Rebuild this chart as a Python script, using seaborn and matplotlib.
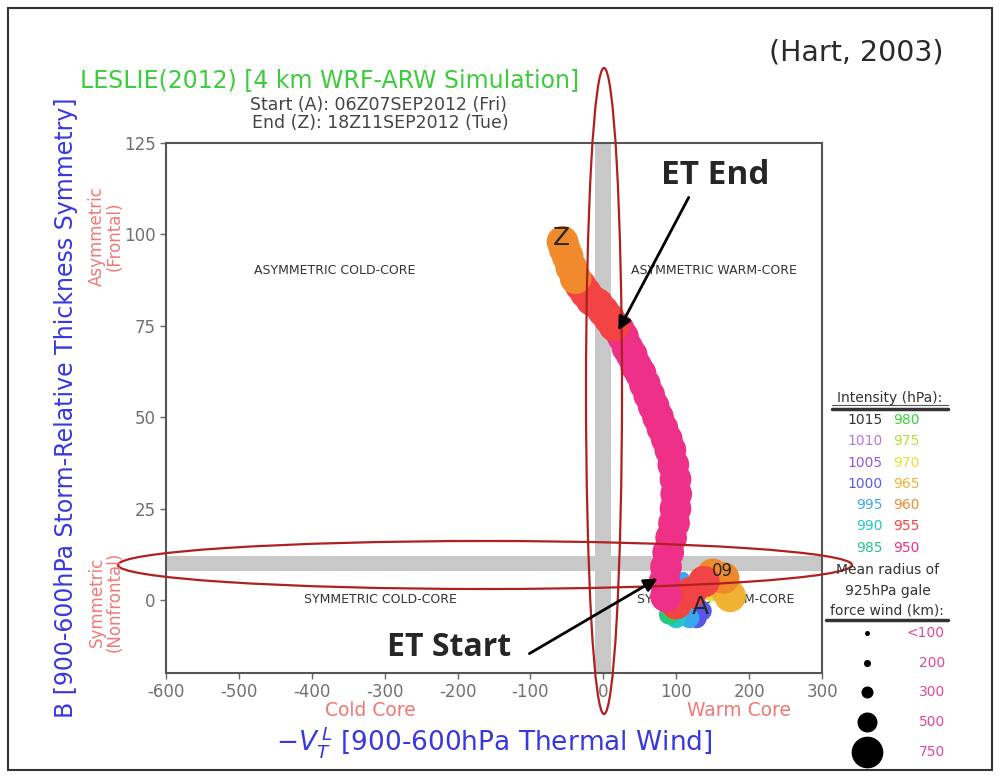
import matplotlib
matplotlib.use("Agg")
import matplotlib.pyplot as plt
from matplotlib.patches import Ellipse, Rectangle
import seaborn as sns
import pandas as pd

# Phase-space track (Hart 2003 style)
vtl = [150, 168, 174, 165, 150, 138, 135, 128, 118, 100, 90, 96, 106, 110, 120,
       100, 86, 84, 86, 89, 93, 97, 99, 100, 99, 96, 92, 87, 81, 75, 69, 63, 57, 51,
       45, 39, 33, 27, 21, 15, 8, 0, -8, -16, -24, -31, -38, -44, -49, -53, -56]
b_sym = [4, 3, 1, 6, 7, 5, -3, -5, -5, -5, -4, -3, -2, 6, 2,
         -1, 1, 5, 9, 13, 17, 21, 25, 29, 33, 37, 41, 44, 47, 50, 53, 56, 59, 62,
         64, 67, 69, 72, 74, 75, 77, 79, 81, 82, 84, 86, 88, 91, 94, 96, 98]
pressure = [970, 965, 965, 960, 960, 955, 1000, 1000, 995, 990, 985, 980, 975, 995, 955,
            955, 950, 950, 950, 950, 950, 950, 950, 950, 950, 950, 950, 950, 950, 950, 950, 950,
            950, 950, 950, 950, 950, 950, 950, 955, 955, 955, 955, 955, 955, 955,
            960, 960, 960, 960, 960]
radius = [750, 750, 750, 750, 750, 750, 500, 500, 500, 500, 500, 500, 500, 300, 750,
          750, 750, 750, 750, 750, 750, 750, 750, 750, 750, 750, 750, 750, 750, 750, 750, 750,
          750, 750, 750, 750, 750, 750, 750, 750, 750, 750, 750, 750, 750, 750,
          750, 750, 750, 750, 750]

levels = [1015, 1010, 1005, 1000, 995, 990, 985, 980, 975, 970, 965, 960, 955, 950]
level_colors = ["#333333", "#b878d8", "#9658d8", "#5858e8", "#38a8f0", "#22c8c8", "#28c488",
                "#36d236", "#b4e038", "#ece034", "#f0b232", "#f08a2c", "#f24444", "#ee3088"]
radius_labels = ["<100", "200", "300", "500", "750"]
radius_keys = [100, 200, 300, 500, 750]
radius_sizes = [13, 26, 75, 207, 520]

df = pd.DataFrame({"vtl": vtl, "b": b_sym, "p": pressure, "r": radius})

sns.set_style("white")
plt.rcParams["font.family"] = ["DejaVu Sans"]
plt.rcParams["mathtext.fontset"] = "dejavusans"
plt.rcParams["axes.unicode_minus"] = False

fig = plt.figure(figsize=(10, 7.76), dpi=100)
ax = fig.add_axes([0.166, 0.1327, 0.656, 0.683])

ax.axvspan(-11, 11, color="#c8c8c8", lw=0, zorder=0)
ax.axhspan(8, 12, color="#c8c8c8", lw=0, zorder=0)

sns.scatterplot(data=df, x="vtl", y="b", hue="p", size="r",
                palette=dict(zip(levels, level_colors)),
                sizes=dict(zip(radius_keys, radius_sizes)),
                linewidth=0, legend=False, ax=ax, zorder=3)

ax.text(133, -2, "A", fontsize=18, ha="center", va="center", zorder=5)
ax.text(-57, 99, "Z", fontsize=18, ha="center", va="center", zorder=5)
ax.text(163, 8, "09", fontsize=12, ha="center", va="center", zorder=5)

quad_kw = dict(fontsize=9, color="#333333", ha="center", va="center", zorder=2)
ax.text(-369, 90, "ASYMMETRIC COLD-CORE", **quad_kw)
ax.text(152, 90, "ASYMMETRIC WARM-CORE", **quad_kw)
ax.text(-306, 0, "SYMMETRIC COLD-CORE", **quad_kw)
ax.text(154, 0, "SYMMETRIC WARM-CORE", **quad_kw)

ax.set_xlim(-600, 300)
ax.set_ylim(-20, 125)
ax.set_xticks(range(-600, 301, 100))
ax.set_yticks(range(0, 126, 25))
ax.set_xlabel("")
ax.set_ylabel("")
ax.tick_params(direction="out", length=4, width=1, color="#666666",
               labelcolor="#707070", labelsize=12, bottom=True, left=True)
for s in ax.spines.values():
    s.set_color("#555555")
    s.set_linewidth(1.5)

# overlay in pixel coordinates for the annotations of the slide
ov = fig.add_axes([0, 0, 1, 1], zorder=10)
ov.set_xlim(0, 1000)
ov.set_ylim(776, 0)
ov.axis("off")
ov.patch.set_alpha(0)

ov.add_patch(Rectangle((8, 8), 984, 762, fill=False, ec="#333333", lw=1.5))

ov.text(856, 53, "(Hart, 2003)", fontsize=20.5, color="#2a2a2a", ha="center", va="center")
ov.text(330, 80, "LESLIE(2012) [4 km WRF-ARW Simulation]", fontsize=17,
        color="#3ccc3c", ha="center", va="center")
ov.text(378, 105, "Start (A): 06Z07SEP2012 (Fri)", fontsize=12.5, color="#444444",
        ha="center", va="center")
ov.text(380, 123, "End (Z): 18Z11SEP2012 (Tue)", fontsize=12.5, color="#444444",
        ha="center", va="center")

ov.text(66, 408, "B [900-600hPa Storm-Relative Thickness Symmetry]", fontsize=17,
        color="#3838e0", rotation=90, ha="center", va="center")
ov.text(106, 236, "Asymmetric\n(Frontal)", fontsize=12, color="#f07878", rotation=90,
        ha="center", va="center", linespacing=1.0)
ov.text(106, 602, "Symmetric\n(Nonfrontal)", fontsize=12, color="#f07878", rotation=90,
        ha="center", va="center", linespacing=1.0)
ov.text(370, 710, "Cold Core", fontsize=13.5, color="#f07878", ha="center", va="center")
ov.text(739, 710, "Warm Core", fontsize=13.5, color="#f07878", ha="center", va="center")
ov.text(494, 742, r"$-V_T^{\,L}$ [900-600hPa Thermal Wind]", fontsize=19, color="#3838e0",
        ha="center", va="center")

# red highlight ellipses
ov.add_patch(Ellipse((604, 391), 36, 646, fill=False, ec="#b02020", lw=1.6))
ov.add_patch(Ellipse((485, 565), 734, 48, fill=False, ec="#b02020", lw=1.6))

ov.text(715, 175, "ET End", fontsize=24, fontweight="bold", family="Open Sans",
        ha="center", va="center")
ov.annotate("", xy=(617, 333), xytext=(690, 195),
            arrowprops=dict(arrowstyle="-|>", color="black", lw=2, mutation_scale=20))
ov.text(449, 648, "ET Start", fontsize=23, fontweight="bold", family="Open Sans",
        ha="center", va="center")
ov.annotate("", xy=(660, 577), xytext=(527, 655),
            arrowprops=dict(arrowstyle="-|>", color="black", lw=2, mutation_scale=20))

# intensity legend
ov.text(890, 398, "Intensity (hPa):", fontsize=10, color="#333333", ha="center", va="center")
ov.plot([832, 948], [405, 405], color="#555555", lw=0.8)
ov.plot([832, 948], [409, 409], color="#333333", lw=2.5)
half = len(levels) // 2
for i in range(half):
    y = 420 + i * 21.3
    ov.text(883, y, str(levels[i]), fontsize=10, color=level_colors[i], ha="right", va="center")
    ov.text(893, y, str(levels[i + half]), fontsize=10, color=level_colors[i + half],
            ha="left", va="center")

ov.text(888, 570, "Mean radius of", fontsize=10, color="#333333", ha="center", va="center")
ov.text(888, 591, "925hPa gale", fontsize=10, color="#333333", ha="center", va="center")
ov.text(887, 611, "force wind (km):", fontsize=10, color="#333333", ha="center", va="center")
ov.plot([826, 948], [620, 620], color="#333333", lw=2.5)
for i, (lab, s) in enumerate(zip(radius_labels, radius_sizes)):
    y = 633 + i * 29.7
    ov.scatter([867], [y], s=s, color="black", linewidth=0)
    ov.text(945, y, lab, fontsize=10, color="#e0489a", ha="right", va="center")

fig.savefig("out.png", dpi=100)
